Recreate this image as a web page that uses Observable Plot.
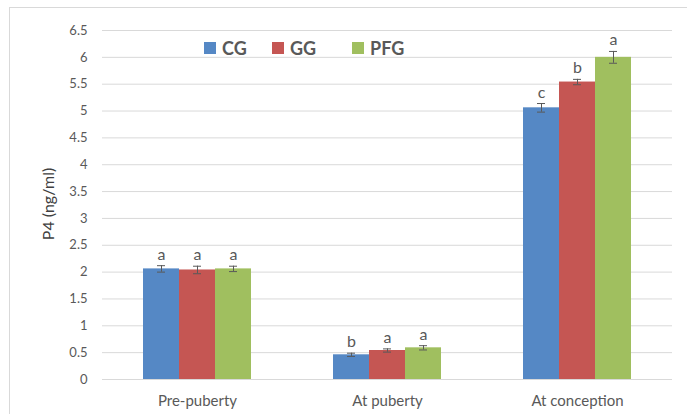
<!DOCTYPE html>
<html>
<head>
<meta charset="utf-8">
<script src="https://cdn.jsdelivr.net/npm/d3@7"></script>
<script src="https://cdn.jsdelivr.net/npm/@observablehq/plot@0.6"></script>
<style>
  body { margin: 0; background: #fff; font-family: Lato, "Open Sans", sans-serif; }
  #wrap { position: relative; width: 687px; height: 414px; overflow: hidden; }
  #frame { position: absolute; left: 9px; top: 7px; width: 700px; height: 420px;
           border-left: 1.5px solid #d9d9d9; border-top: 1.5px solid #d9d9d9; pointer-events: none; }
  .leg { position: absolute; top: 37px; display: flex; align-items: center;
         font: bold 18px Lato, sans-serif; color: #595959; }
  .leg span.sw { width: 12px; height: 12px; display: inline-block; margin-right: 6px; }
  #ylab { position: absolute; left: 47px; top: 204px; transform: translate(-50%, -50%) rotate(-90deg);
          font: 16px Lato, sans-serif; color: #404040; white-space: nowrap; }
</style>
</head>
<body>
<div id="wrap">
  <div id="chart"></div>
  <div id="frame"></div>
  <div id="legend"></div>
  <div id="ylab">P4 (ng/ml)</div>
</div>
<script>
const categories = ["Pre-puberty", "At puberty", "At conception"];
const groups = ["CG", "GG", "PFG"];
const colors = ["#5588c5", "#c55653", "#a0bf5f"];
const CG  = [2.06, 0.46, 5.06];
const GG  = [2.04, 0.54, 5.54];
const PFG = [2.06, 0.59, 6.00];
const errCG  = [0.06, 0.03, 0.08];
const errGG  = [0.07, 0.03, 0.05];
const errPFG = [0.05, 0.04, 0.11];
const letCG  = ["a", "b", "c"];
const letGG  = ["a", "a", "b"];
const letPFG = ["a", "a", "a"];
const yTicks = [0, 0.5, 1, 1.5, 2, 2.5, 3, 3.5, 4, 4.5, 5, 5.5, 6, 6.5];

const series = {CG: [CG, errCG, letCG], GG: [GG, errGG, letGG], PFG: [PFG, errPFG, letPFG]};
const data = [];
categories.forEach((c, i) => {
  groups.forEach(g => {
    const [v, e, l] = series[g];
    data.push({cat: c, grp: g, v: v[i], e: e[i], lab: l[i]});
  });
});

const chart = Plot.plot({
  width: 687,
  height: 414,
  marginLeft: 101,
  marginRight: 14,
  marginTop: 30,
  marginBottom: 35,
  style: {fontFamily: "Lato, sans-serif", background: "transparent"},
  fx: {domain: categories, padding: 0, label: null},
  x: {domain: groups, paddingInner: 0, paddingOuter: 1.125, axis: null},
  y: {domain: [0, 6.5], label: null},
  color: {domain: groups, range: colors},
  marks: [
    Plot.gridY(yTicks, {stroke: "#d9d9d9", strokeOpacity: 1, strokeWidth: 1}),
    Plot.axisY({ticks: yTicks, tickSize: 0, tickPadding: 15, fontSize: 13, fill: "#595959", label: null,
                tickFormat: d => String(d)}),
    Plot.axisFx({anchor: "bottom", tickSize: 0, tickPadding: 16, fontSize: 15, fill: "#595959", label: null}),
    Plot.barY(data, {fx: "cat", x: "grp", y: "v", fill: "grp"}),
    Plot.ruleX(data, {fx: "cat", x: "grp", y1: d => d.v - d.e, y2: d => d.v + d.e, stroke: "#595959", strokeWidth: 1}),
    Plot.tickY(data, {fx: "cat", x: "grp", y: d => d.v - d.e, stroke: "#595959", strokeWidth: 1, insetLeft: 14, insetRight: 14}),
    Plot.tickY(data, {fx: "cat", x: "grp", y: d => d.v + d.e, stroke: "#595959", strokeWidth: 1, insetLeft: 14, insetRight: 14}),
    Plot.text(data, {fx: "cat", x: "grp", y: d => d.v + d.e, text: "lab", lineAnchor: "bottom", dy: -6,
                     fontSize: 16, fill: "#595959"})
  ]
});
document.getElementById("chart").appendChild(chart);

const legend = document.getElementById("legend");
const legLeft = [204, 272, 352];
groups.forEach((g, i) => {
  const d = document.createElement("div");
  d.className = "leg";
  d.style.left = legLeft[i] + "px";
  d.innerHTML = `<span class="sw" style="background:${colors[i]}"></span>${g}`;
  legend.appendChild(d);
});
</script>
</body>
</html>
